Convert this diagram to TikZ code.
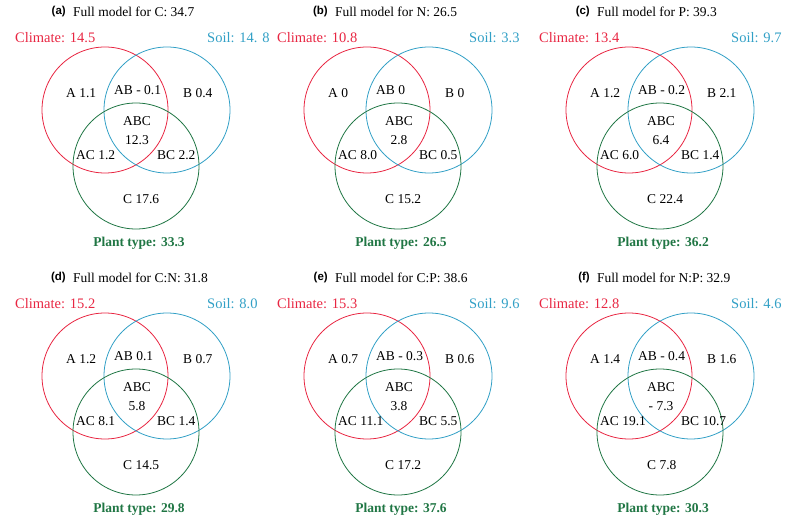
\documentclass[tikz,border=0pt]{standalone}
\usepackage{fontspec}
\setmainfont{Liberation Serif}
\newfontfamily\tagfont{Liberation Sans}
\definecolor{climred}{RGB}{232,38,66}
\definecolor{soilblue}{RGB}{50,160,198}
\definecolor{plantgreen}{RGB}{32,118,68}
\tikzset{
  ring/.style={line width=0.8pt},
  txt/.style={inner sep=0pt, text height=9pt, text depth=0pt,
    font=\fontsize{13.5}{15}\selectfont},
  keytxt/.style={txt, font=\fontsize{14.5}{16}\selectfont},
  tagtxt/.style={inner sep=0pt, font=\tagfont\bfseries\fontsize{11.5}{13}\selectfont},
  planttxt/.style={txt, text=plantgreen, font=\bfseries\fontsize{13.5}{15}\selectfont}
}
\begin{document}
\begin{tikzpicture}[x=1pt,y=-1pt]
\useasboundingbox (0,0) rectangle (803,521);
% one venn panel per entry: column/row/letter/title/climate/soil/plant/A/AB/B/ABC/AC/BC/C
\foreach \col/\row/\lab/\ttl/\cli/\soi/\pla/\va/\vab/\vb/\vabc/\vac/\vbc/\vc in {
  0/0/a/C: 34.7/14.5/14. 8/33.3/1.1/- 0.1/0.4/12.3/1.2/2.2/17.6,
  1/0/b/N: 26.5/10.8/3.3/26.5/0/0/0/2.8/8.0/0.5/15.2,
  2/0/c/P: 39.3/13.4/9.7/36.2/1.2/- 0.2/2.1/6.4/6.0/1.4/22.4,
  0/1/d/C:N: 31.8/15.2/8.0/29.8/1.2/0.1/0.7/5.8/8.1/1.4/14.5,
  1/1/e/C:P: 38.6/15.3/9.6/37.6/0.7/- 0.3/0.6/3.8/11.1/5.5/17.2,
  2/1/f/N:P: 32.9/12.8/4.6/30.3/1.4/- 0.4/1.6/- 7.3/19.1/10.7/7.8}{
\begin{scope}[shift={(\col*262,\row*266)}]
\draw[ring, climred] (105,110) circle[radius=63pt];
\draw[ring, soilblue] (167,110) circle[radius=63pt];
\draw[ring, plantgreen] (136,166) circle[radius=63pt];
\node[tagtxt, anchor=east] (tag\lab) at (66,12) {(\lab)};
\node[txt, anchor=west] (ttl\lab) at (73,12) {Full model for \ttl};
\node[keytxt, anchor=west, text=climred] (cli\lab) at (15,38) {Climate: \cli};
\node[keytxt, anchor=west, text=soilblue] (soi\lab) at (207,38) {Soil: \soi};
\node[txt, anchor=west] (a\lab) at (66,93) {A \va};
\node[txt, anchor=west] (ab\lab) at (114,90) {AB \vab};
\node[txt, anchor=west] (b\lab) at (183,93) {B \vb};
\node[txt] (abc\lab) at (137,121) {ABC};
\node[txt] (vabc\lab) at (137,140) {\vabc};
\node[txt, anchor=west] (ac\lab) at (76,155) {AC \vac};
\node[txt, anchor=west] (bc\lab) at (157,155) {BC \vbc};
\node[txt, anchor=west] (c\lab) at (123,199) {C \vc};
\node[planttxt] (pla\lab) at (139,242) {Plant type: \pla};
\end{scope}
}
\end{tikzpicture}
\end{document}
